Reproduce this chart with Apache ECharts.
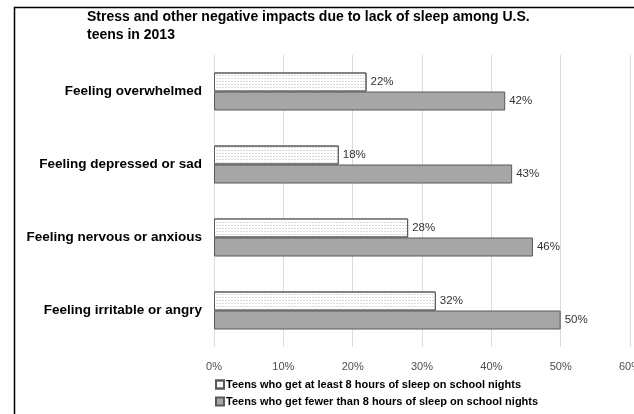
<!DOCTYPE html>
<html><head><meta charset="utf-8">
<script src="https://cdn.jsdelivr.net/npm/echarts@6/dist/echarts.min.js"></script>
<style>html,body{margin:0;padding:0;background:#fff}#c{width:634px;height:414px}</style>
</head><body><div id="c"></div>
<script>
const categories = ['Feeling overwhelmed','Feeling depressed or sad','Feeling nervous or anxious','Feeling irritable or angry'];
const atLeast8 = [22, 18, 28, 32];
const fewerThan8 = [42, 43, 46, 50];
const seriesNames = ['Teens who get at least 8 hours of sleep on school nights','Teens who get fewer than 8 hours of sleep on school nights'];
const titleText = 'Stress and other negative impacts due to lack of sleep among U.S.\nteens in 2013';

const chart = echarts.init(document.getElementById('c'));
const font = 'Arial, "Liberation Sans", sans-serif';
chart.setOption({
  animation:false,
  textStyle:{fontFamily:font},
  title:{text:titleText,left:82,top:3,textStyle:{fontFamily:font,fontSize:14,fontWeight:'bold',color:'#000',lineHeight:18}},
  graphic:[{type:'rect',shape:{x:14.5,y:7.5,width:700,height:500},style:{fill:'none',stroke:'#000',lineWidth:1.5},silent:true}],
  legend:{orient:'vertical',left:210,top:374,itemGap:6,itemWidth:8,itemHeight:8,icon:'rect',
    textStyle:{fontFamily:font,fontSize:11,fontWeight:'bold',color:'#000',padding:[0,0,0,-3]},
    data:seriesNames},
  grid:{left:214,right:4,top:55,bottom:67,containLabel:false,outerBoundsMode:'none'},
  xAxis:{type:'value',min:0,max:60,interval:10,
    axisLabel:{formatter:'{value}%',color:'#4d4d4d',fontSize:11,margin:14},
    axisLine:{show:false},axisTick:{show:false},
    splitLine:{lineStyle:{color:'#dcdcdc',width:1}}},
  yAxis:{type:'category',data:categories,inverse:true,
    axisLabel:{color:'#000',fontWeight:'bold',fontSize:13.5,margin:12},
    axisLine:{show:false},axisTick:{show:false}},
  series:[
    {name:seriesNames[0],type:'bar',data:atLeast8,barWidth:19,barGap:'0%',
      itemStyle:{color:'#ffffff',borderColor:'#595959',borderWidth:1,
        decal:{symbol:'rect',symbolSize:1,dashArrayX:[2,1],dashArrayY:[1,2],color:'#dadada'}},
      label:{show:true,position:'right',formatter:'{c}%',color:'#333',fontSize:11.5,distance:4}},
    {name:seriesNames[1],type:'bar',data:fewerThan8,barWidth:19,barGap:'0%',
      itemStyle:{color:'#a6a6a6',borderColor:'#595959',borderWidth:1},
      label:{show:true,position:'right',formatter:'{c}%',color:'#333',fontSize:11.5,distance:4}}
  ]
});
</script></body></html>
